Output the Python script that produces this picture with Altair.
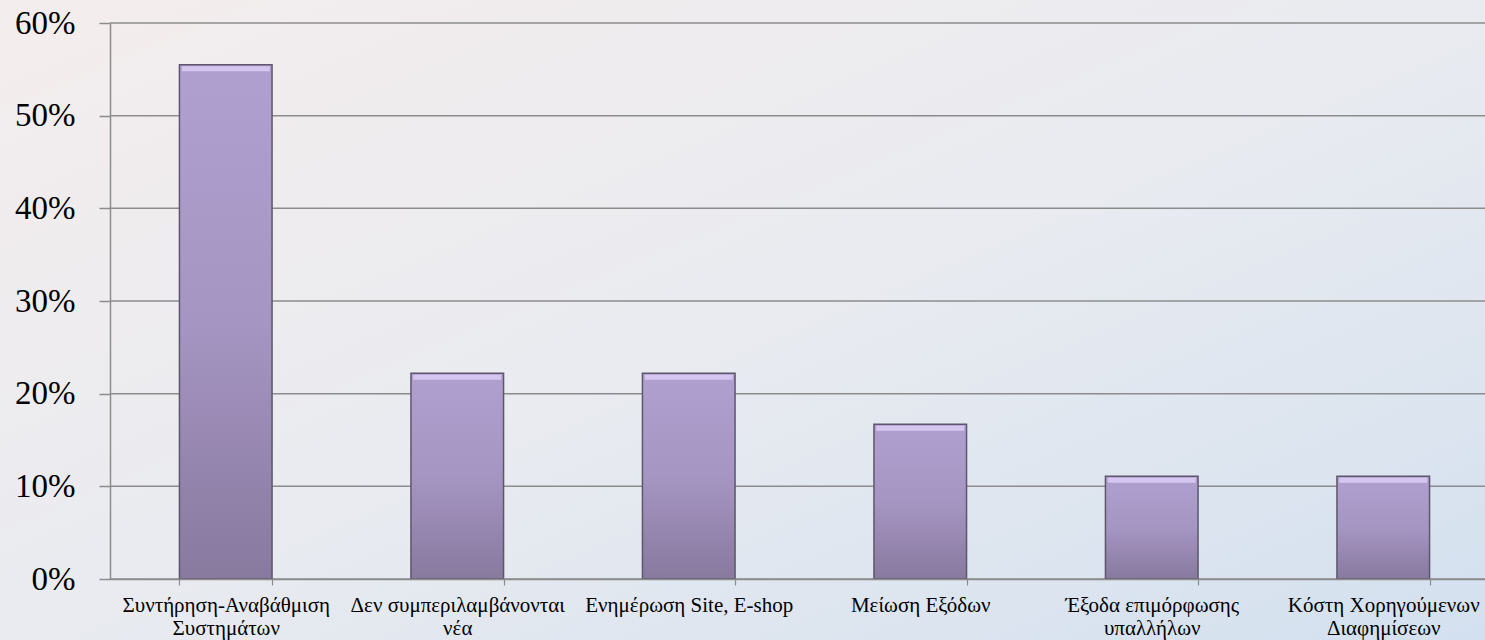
import altair as alt
import pandas as pd

categories = [
    "Συντήρηση-Αναβάθμιση\nΣυστημάτων",
    "Δεν συμπεριλαμβάνονται\nνέα",
    "Ενημέρωση Site, E-shop",
    "Μείωση Εξόδων",
    "Έξοδα επιμόρφωσης\nυπαλλήλων",
    "Κόστη Χορηγούμενων\nΔιαφημίσεων",
]
values = [0.555, 0.222, 0.222, 0.167, 0.111, 0.111]
y_ticks = [0, 0.1, 0.2, 0.3, 0.4, 0.5, 0.6]

df = pd.DataFrame({"cat": categories, "val": values})
grid_df = pd.DataFrame({"g": y_ticks})

W, H = 1375, 556
PL, PT = 110, 23

yscale = alt.Scale(domain=[0, 0.6], nice=False)
xscale = alt.Scale(domain=categories, range=[0, 1389], paddingInner=0.6, paddingOuter=0.3)

bg = alt.Chart(pd.DataFrame({"a": [0]})).mark_rect(
    clip=False,
    fill=alt.Gradient(
        gradient="linear",
        stops=[
            alt.GradientStop(color="#f4eded", offset=0),
            alt.GradientStop(color="#e9ebf0", offset=0.5),
            alt.GradientStop(color="#d3e0ef", offset=1),
        ],
        x1=0, y1=0, x2=1, y2=1,
    ),
).encode(
    x=alt.value(-PL), x2=alt.value(W + 20), y=alt.value(-PT), y2=alt.value(640 - PT)
)

grid = alt.Chart(grid_df).mark_rule(
    color="#8c8c8c", strokeWidth=1.5, clip=False
).encode(
    y=alt.Y("g:Q", scale=yscale),
    x=alt.value(0),
    x2=alt.value(W + 20),
)

bars = alt.Chart(df).mark_bar(
    fill=alt.Gradient(
        gradient="linear",
        stops=[
            alt.GradientStop(color="#b0a0d0", offset=0),
            alt.GradientStop(color="#a595c2", offset=0.5),
            alt.GradientStop(color="#88799f", offset=1),
        ],
        x1=0, y1=0, x2=0, y2=1,
    ),
    stroke="#5e566c",
    strokeWidth=1.5,
).encode(
    x=alt.X(
        "cat:N",
        sort=categories,
        title=None,
        scale=xscale,
        axis=alt.Axis(
            labelAngle=0,
            labelExpr="split(datum.label, '\\n')",
            labelFont="Liberation Serif",
            labelFontSize=21,
            labelColor="#000000",
            labelLineHeight=23,
            labelPadding=9,
            labelLimit=300,
            domainColor="#8c8c8c",
            domainWidth=1.5,
            tickColor="#8c8c8c",
            tickWidth=1.2,
            tickSize=6,
            tickBand="extent",
            grid=False,
            zindex=1,
        ),
    ),
    y=alt.Y(
        "val:Q",
        title=None,
        scale=yscale,
        axis=alt.Axis(
            format=".0%",
            values=y_ticks,
            labelFont="Liberation Serif",
            labelFontSize=33,
            labelColor="#000000",
            labelPadding=24,
            grid=False,
            tickColor="#8c8c8c",
            tickSize=11,
            tickWidth=1.5,
            domainColor="#8c8c8c",
            domainWidth=1.5,
            zindex=1,
        ),
    ),
)

bevel = alt.Chart(df).mark_tick(
    color="#d9caf2", thickness=5, size=88, opacity=0.9, yOffset=4
).encode(
    x=alt.X("cat:N", sort=categories, scale=xscale, title=None),
    y=alt.Y("val:Q", scale=yscale, title=None),
)

chart = alt.layer(bg, grid, bars, bevel).properties(
    width=W,
    height=H,
    padding={"left": PL, "top": PT, "right": 0, "bottom": 640 - PT - H},
    autosize=alt.AutoSizeParams(type="none"),
    background="#eeeef0",
).configure_view(stroke=None)

chart.save("out.html", embed_options={"renderer": "svg", "actions": False})
